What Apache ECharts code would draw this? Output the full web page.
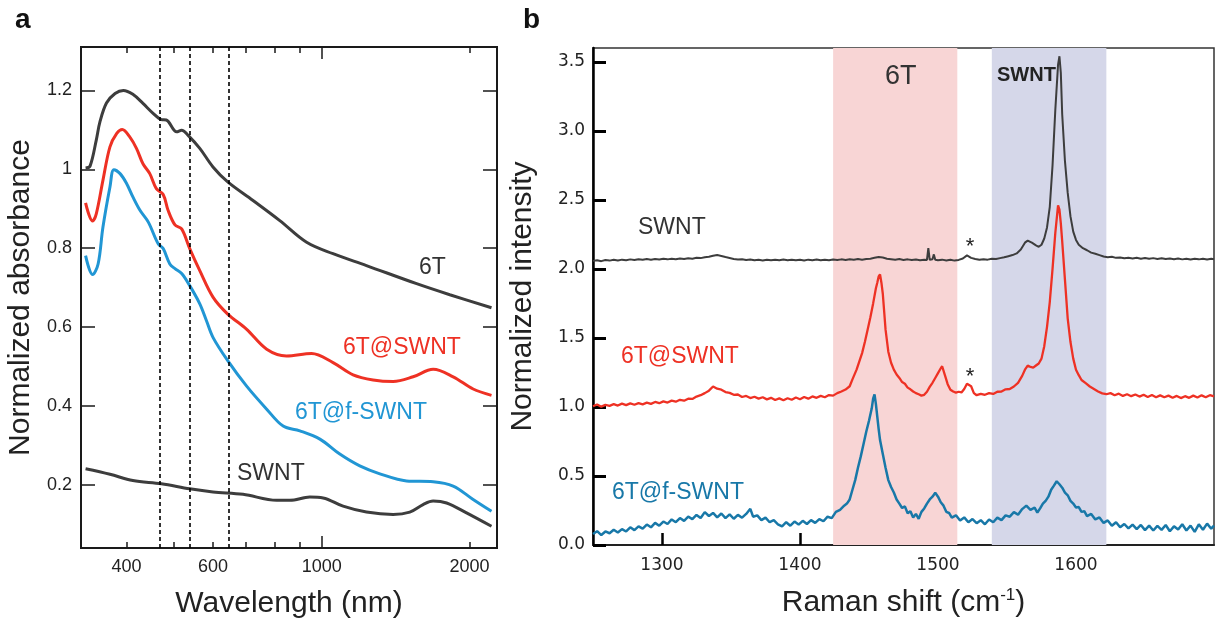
<!DOCTYPE html>
<html><head><meta charset="utf-8">
<script src="https://cdn.jsdelivr.net/npm/echarts@6/dist/echarts.min.js"></script>
<style>html,body{margin:0;padding:0;background:#fff}#c{width:1225px;height:628px}</style>
</head><body><div id="c"></div><script>
// ---------- Panel a: absorbance (wavelength nm, normalized absorbance) ----------
const abs6T = [[330,1.003],[337,1.008],[347,1.074],[353,1.12],[364,1.168],[379,1.192],[394,1.20],[412,1.19],[432,1.167],[453,1.142],[471,1.126],[482,1.125],[506,1.095],[518,1.099],[534,1.086],[564,1.053],[600,1.006],[643,0.968],[724,0.921],[821,0.870],[931,0.815],[1054,0.786],[1233,0.756],[1560,0.710],[1823,0.682],[2217,0.649]];
const abs6TSWNT = [[330,0.915],[341,0.869],[347,0.887],[358,0.972],[370,1.057],[382,1.091],[392,1.101],[406,1.082],[419,1.053],[432,1.014],[446,0.989],[460,0.951],[475,0.936],[486,0.896],[502,0.859],[518,0.849],[538,0.799],[564,0.743],[600,0.676],[643,0.633],[702,0.595],[772,0.544],[847,0.527],[953,0.533],[1054,0.510],[1158,0.479],[1272,0.466],[1397,0.462],[1535,0.474],[1686,0.493],[1852,0.474],[2034,0.443],[2217,0.427]];
const abs6TfSWNT = [[330,0.781],[341,0.733],[350,0.760],[358,0.853],[370,0.955],[377,0.999],[388,0.989],[400,0.964],[412,0.930],[426,0.896],[443,0.866],[464,0.811],[475,0.799],[490,0.760],[502,0.748],[518,0.736],[538,0.705],[564,0.659],[582,0.616],[600,0.574],[643,0.515],[702,0.451],[772,0.392],[834,0.349],[902,0.337],[991,0.316],[1088,0.278],[1195,0.248],[1313,0.228],[1488,0.210],[1686,0.208],[1852,0.197],[2034,0.163],[2217,0.133]];
const absSWNT = [[330,0.241],[370,0.227],[412,0.211],[471,0.203],[538,0.190],[600,0.182],[691,0.176],[809,0.161],[861,0.161],[945,0.169],[1006,0.167],[1105,0.146],[1233,0.131],[1397,0.125],[1511,0.131],[1608,0.150],[1686,0.159],[1796,0.154],[1972,0.129],[2217,0.095]];
const laserLines = [472, 537, 643];
const wlLabels = [400, 600, 1000, 2000];
const wlMinorTicks = [400, 500, 600, 700, 800, 900, 2000];
const wlMajorTicks = [1000];
const absTicks = [0.2, 0.4, 0.6, 0.8, 1.0, 1.2];

// ---------- Panel b: Raman (shift cm-1, normalized intensity) ----------
const ramanSWNT = [[1250,2.058],[1253,2.062],[1256,2.056],[1259,2.064],[1262,2.060],[1265,2.066],[1268,2.061],[1271,2.067],[1274,2.063],[1277,2.069],[1280,2.064],[1283,2.070],[1286,2.066],[1289,2.071],[1292,2.067],[1295,2.072],[1298,2.068],[1301,2.073],[1304,2.069],[1307,2.074],[1310,2.070],[1313,2.076],[1316,2.072],[1319,2.077],[1322,2.074],[1325,2.080],[1328,2.078],[1331,2.085],[1334,2.088],[1337,2.095],[1340,2.100],[1343,2.094],[1346,2.086],[1349,2.079],[1352,2.072],[1355,2.068],[1358,2.070],[1361,2.064],[1364,2.068],[1367,2.062],[1370,2.066],[1373,2.061],[1376,2.066],[1379,2.062],[1382,2.067],[1385,2.063],[1388,2.068],[1391,2.063],[1394,2.067],[1397,2.062],[1400,2.066],[1403,2.061],[1406,2.067],[1409,2.063],[1412,2.068],[1415,2.062],[1418,2.067],[1421,2.063],[1424,2.068],[1427,2.064],[1430,2.069],[1433,2.065],[1436,2.070],[1439,2.066],[1442,2.071],[1445,2.067],[1448,2.072],[1451,2.074],[1454,2.080],[1457,2.086],[1460,2.082],[1463,2.074],[1466,2.070],[1469,2.066],[1472,2.071],[1475,2.065],[1478,2.069],[1481,2.064],[1484,2.068],[1487,2.063],[1490,2.067],[1492,2.065],[1493,2.150],[1494,2.066],[1496,2.070],[1497,2.105],[1498,2.066],[1500,2.062],[1503,2.067],[1506,2.061],[1509,2.066],[1512,2.060],[1515,2.065],[1518,2.075],[1521,2.098],[1524,2.080],[1527,2.072],[1530,2.066],[1533,2.070],[1536,2.067],[1539,2.073],[1542,2.071],[1545,2.078],[1548,2.084],[1551,2.092],[1554,2.100],[1557,2.112],[1560,2.140],[1563,2.190],[1565,2.205],[1568,2.190],[1571,2.170],[1573,2.160],[1575,2.175],[1577,2.220],[1579,2.300],[1581,2.450],[1583,2.750],[1585,3.150],[1587,3.480],[1588,3.540],[1589,3.420],[1590,3.120],[1592,2.780],[1594,2.550],[1596,2.380],[1598,2.270],[1600,2.210],[1602,2.175],[1605,2.150],[1608,2.135],[1611,2.118],[1614,2.110],[1617,2.100],[1620,2.090],[1623,2.084],[1626,2.088],[1629,2.080],[1632,2.083],[1635,2.077],[1638,2.081],[1641,2.076],[1644,2.080],[1647,2.074],[1650,2.079],[1653,2.073],[1656,2.078],[1659,2.072],[1662,2.077],[1665,2.071],[1668,2.076],[1671,2.070],[1674,2.075],[1677,2.069],[1680,2.074],[1683,2.068],[1686,2.073],[1689,2.069],[1692,2.074],[1695,2.068],[1698,2.073],[1700,2.070]];
const raman6TSWNT = [[1250,1.005],[1253,1.018],[1256,1.002],[1259,1.015],[1262,1.008],[1265,1.020],[1268,1.010],[1271,1.024],[1274,1.013],[1277,1.026],[1280,1.016],[1283,1.028],[1286,1.019],[1289,1.031],[1292,1.022],[1295,1.036],[1298,1.027],[1301,1.040],[1304,1.032],[1307,1.046],[1310,1.038],[1313,1.052],[1316,1.045],[1319,1.060],[1322,1.058],[1325,1.075],[1328,1.085],[1331,1.100],[1334,1.118],[1337,1.148],[1340,1.132],[1343,1.125],[1346,1.108],[1349,1.102],[1352,1.088],[1355,1.090],[1358,1.072],[1361,1.080],[1364,1.064],[1367,1.074],[1370,1.060],[1373,1.070],[1376,1.055],[1379,1.066],[1382,1.050],[1385,1.062],[1388,1.048],[1391,1.063],[1394,1.052],[1397,1.068],[1400,1.056],[1403,1.072],[1406,1.060],[1409,1.076],[1412,1.066],[1415,1.080],[1418,1.070],[1421,1.086],[1424,1.082],[1427,1.100],[1430,1.112],[1433,1.126],[1436,1.150],[1438,1.200],[1441,1.270],[1443,1.330],[1445,1.390],[1447,1.470],[1449,1.560],[1451,1.650],[1453,1.750],[1455,1.860],[1456,1.900],[1457,1.945],[1458,1.960],[1459,1.900],[1460,1.820],[1461,1.690],[1462,1.560],[1464,1.400],[1466,1.320],[1468,1.270],[1470,1.235],[1472,1.210],[1474,1.180],[1476,1.168],[1478,1.140],[1480,1.128],[1482,1.112],[1484,1.100],[1486,1.092],[1488,1.082],[1490,1.088],[1492,1.110],[1494,1.145],[1496,1.175],[1498,1.210],[1500,1.245],[1502,1.280],[1503,1.295],[1505,1.230],[1507,1.165],[1509,1.125],[1511,1.112],[1513,1.104],[1515,1.110],[1517,1.105],[1519,1.130],[1521,1.168],[1522,1.160],[1524,1.150],[1526,1.100],[1528,1.085],[1531,1.095],[1534,1.088],[1537,1.100],[1540,1.094],[1543,1.110],[1546,1.112],[1549,1.128],[1552,1.130],[1555,1.148],[1558,1.175],[1561,1.225],[1563,1.270],[1565,1.300],[1567,1.290],[1569,1.285],[1571,1.300],[1573,1.315],[1575,1.350],[1577,1.440],[1579,1.580],[1581,1.760],[1583,2.000],[1585,2.260],[1587,2.460],[1588,2.430],[1589,2.330],[1590,2.200],[1592,1.920],[1594,1.640],[1596,1.470],[1598,1.350],[1600,1.270],[1602,1.230],[1604,1.195],[1607,1.172],[1610,1.148],[1613,1.130],[1616,1.112],[1619,1.098],[1622,1.092],[1625,1.100],[1628,1.085],[1631,1.096],[1634,1.080],[1637,1.092],[1640,1.078],[1643,1.090],[1646,1.075],[1649,1.088],[1652,1.072],[1655,1.086],[1658,1.070],[1661,1.084],[1664,1.070],[1667,1.082],[1670,1.066],[1673,1.080],[1676,1.064],[1679,1.078],[1682,1.066],[1685,1.082],[1688,1.068],[1691,1.084],[1694,1.070],[1697,1.085],[1700,1.076]];
const raman6TfSWNT = [[1250,0.080],[1253,0.100],[1256,0.072],[1259,0.098],[1262,0.085],[1265,0.110],[1268,0.090],[1271,0.115],[1274,0.098],[1277,0.128],[1280,0.108],[1283,0.135],[1286,0.118],[1289,0.148],[1292,0.128],[1295,0.160],[1298,0.140],[1301,0.170],[1304,0.152],[1307,0.185],[1310,0.165],[1313,0.195],[1316,0.175],[1319,0.205],[1322,0.188],[1325,0.218],[1328,0.195],[1331,0.238],[1334,0.210],[1337,0.232],[1340,0.200],[1343,0.228],[1346,0.195],[1349,0.222],[1352,0.190],[1355,0.218],[1358,0.198],[1361,0.225],[1364,0.262],[1366,0.205],[1369,0.215],[1372,0.180],[1375,0.198],[1378,0.165],[1381,0.180],[1384,0.150],[1387,0.135],[1390,0.165],[1393,0.140],[1396,0.170],[1399,0.148],[1402,0.175],[1405,0.152],[1408,0.180],[1411,0.160],[1414,0.188],[1417,0.172],[1420,0.205],[1423,0.195],[1426,0.240],[1429,0.255],[1432,0.285],[1434,0.300],[1436,0.330],[1438,0.400],[1440,0.470],[1442,0.560],[1444,0.640],[1446,0.730],[1448,0.820],[1450,0.900],[1452,0.990],[1453,1.060],[1454,1.090],[1455,1.020],[1456,0.930],[1457,0.840],[1458,0.760],[1460,0.660],[1462,0.560],[1464,0.470],[1466,0.420],[1468,0.380],[1470,0.330],[1472,0.300],[1474,0.268],[1476,0.280],[1478,0.230],[1480,0.245],[1482,0.200],[1484,0.225],[1486,0.190],[1488,0.240],[1490,0.265],[1492,0.300],[1494,0.330],[1496,0.350],[1498,0.378],[1500,0.350],[1502,0.310],[1504,0.285],[1506,0.240],[1508,0.232],[1510,0.198],[1513,0.215],[1516,0.178],[1519,0.200],[1522,0.165],[1525,0.188],[1528,0.158],[1531,0.180],[1534,0.150],[1537,0.185],[1540,0.165],[1543,0.198],[1546,0.180],[1549,0.215],[1552,0.205],[1555,0.238],[1558,0.220],[1561,0.260],[1564,0.285],[1567,0.255],[1570,0.270],[1572,0.235],[1574,0.265],[1576,0.300],[1578,0.320],[1580,0.350],[1582,0.400],[1584,0.430],[1586,0.462],[1588,0.440],[1590,0.415],[1592,0.380],[1594,0.360],[1596,0.320],[1598,0.300],[1600,0.272],[1602,0.275],[1604,0.240],[1606,0.245],[1608,0.210],[1611,0.225],[1614,0.185],[1617,0.200],[1620,0.160],[1623,0.178],[1626,0.140],[1629,0.165],[1632,0.128],[1635,0.152],[1638,0.120],[1641,0.148],[1644,0.115],[1647,0.145],[1650,0.108],[1653,0.140],[1656,0.105],[1659,0.138],[1662,0.110],[1665,0.145],[1668,0.100],[1671,0.135],[1674,0.112],[1677,0.150],[1680,0.105],[1683,0.140],[1686,0.095],[1689,0.150],[1692,0.110],[1695,0.155],[1698,0.118],[1700,0.140]];
const bandRanges = [[1424, 1514], [1539, 1622]];
const ramanTicks = [1300, 1400, 1500, 1600];
const intensityTicks = [0.0, 0.5, 1.0, 1.5, 2.0, 2.5, 3.0, 3.5];

// ---------- styling ----------
const GRAY = '#3d3d3d', RED = '#ee3124', BLUE_A = '#2196d4', BLUE_B = '#1878a8';
const FONT = 'Liberation Sans';
const lg = v => Math.log10(v);
const toLog = arr => arr.map(p => [lg(p[0]), p[1]]);

const chart = echarts.init(document.getElementById('c'), null, {renderer: 'canvas'});

function wlAxis(pos, ticks, len, withLabels) {
  return {
    type: 'value', gridIndex: 0, position: pos, min: lg(323), max: lg(2275),
    axisLine: {show: false}, splitLine: {show: false},
    axisTick: {show: true, inside: true, length: len, customValues: ticks.map(lg), lineStyle: {color: '#1a1a1a', width: 1.5}},
    axisLabel: withLabels ? {show: true, customValues: wlLabels.map(lg), margin: 10, fontSize: 18, fontFamily: FONT, color: '#222',
      formatter: v => String(Math.round(Math.pow(10, v)))} : {show: false},
    name: withLabels ? 'Wavelength (nm)' : '', nameLocation: 'middle', nameGap: 41,
    nameTextStyle: {fontSize: 30, fontFamily: FONT, color: '#222'}
  };
}
function absAxis(pos, withLabels) {
  return {
    type: 'value', gridIndex: 0, position: pos, min: 0.04, max: 1.31,
    axisLine: {show: false}, splitLine: {show: false},
    axisTick: {show: true, inside: true, length: 14, customValues: absTicks, lineStyle: {color: '#1a1a1a', width: 1.5}},
    axisLabel: withLabels ? {show: true, customValues: absTicks, margin: 9, fontSize: 18, fontFamily: FONT, color: '#222',
      formatter: v => String(Math.round(v * 10) / 10)} : {show: false},
    name: withLabels ? 'Normalized absorbance' : '', nameLocation: 'middle', nameGap: 45,
    nameTextStyle: {fontSize: 30, fontFamily: FONT, color: '#222'}
  };
}

const option = {
  animation: false,
  backgroundColor: '#fff',
  grid: [
    {left: 81, top: 47, width: 416, height: 501, show: true, borderColor: '#1a1a1a', borderWidth: 2},
    {left: 593, top: 48, width: 621, height: 497, show: true, borderColor: '#333', borderWidth: 1.5}
  ],
  xAxis: [
    wlAxis('bottom', wlMinorTicks, 6, true),
    wlAxis('top', wlMinorTicks, 6, false),
    wlAxis('bottom', wlMajorTicks, 12, false),
    wlAxis('top', wlMajorTicks, 12, false),
    {
      type: 'value', gridIndex: 1, position: 'bottom', min: 1250, max: 1700,
      axisLine: {show: true, lineStyle: {color: '#222', width: 2}}, splitLine: {show: false},
      axisTick: {show: true, inside: true, length: 12, customValues: ramanTicks, lineStyle: {color: '#000', width: 2.5}},
      axisLabel: {show: true, customValues: ramanTicks, margin: 12, fontSize: 17, fontFamily: 'DejaVu Sans', color: '#222',
        formatter: v => String(v)},
      name: 'Raman shift (cm{sup|-1})', nameLocation: 'middle', nameGap: 42,
      nameTextStyle: {fontSize: 30, fontFamily: FONT, color: '#222',
        rich: {sup: {fontSize: 17, fontFamily: FONT, color: '#222', padding: [0, 0, 14, 0]}}}
    }
  ],
  yAxis: [
    absAxis('left', true),
    absAxis('right', false),
    {
      type: 'value', gridIndex: 1, position: 'left', min: 0, max: 3.6,
      axisLine: {show: true, lineStyle: {color: '#000', width: 2.5}}, splitLine: {show: false},
      axisTick: {show: true, inside: true, length: 13, customValues: intensityTicks, lineStyle: {color: '#000', width: 3}},
      axisLabel: {show: true, customValues: intensityTicks, margin: 8, fontSize: 17, fontFamily: 'DejaVu Sans', color: '#222',
        formatter: v => v.toFixed(1)},
      name: 'Normalized intensity', nameLocation: 'middle', nameGap: 55,
      nameTextStyle: {fontSize: 30, fontFamily: FONT, color: '#222'}
    }
  ],
  series: [
    // panel a
    {type: 'line', xAxisIndex: 0, yAxisIndex: 0, data: toLog(absSWNT), showSymbol: false, smooth: 0.35,
      lineStyle: {color: GRAY, width: 3}, z: 3,
      markLine: {silent: true, symbol: ['none', 'none'], label: {show: false},
        lineStyle: {color: '#000', width: 1.6, type: [4, 3]},
        data: laserLines.map(w => ({xAxis: lg(w)}))}},
    {type: 'line', xAxisIndex: 0, yAxisIndex: 0, data: toLog(abs6TfSWNT), showSymbol: false, smooth: 0.35,
      lineStyle: {color: BLUE_A, width: 3}, z: 3},
    {type: 'line', xAxisIndex: 0, yAxisIndex: 0, data: toLog(abs6TSWNT), showSymbol: false, smooth: 0.35,
      lineStyle: {color: RED, width: 3}, z: 3},
    {type: 'line', xAxisIndex: 0, yAxisIndex: 0, data: toLog(abs6T), showSymbol: false, smooth: 0.35,
      lineStyle: {color: GRAY, width: 3}, z: 3},
    // panel b bands
    {type: 'line', xAxisIndex: 4, yAxisIndex: 2, data: [], z: 1,
      markArea: {silent: true, data: [
        [{xAxis: bandRanges[0][0], itemStyle: {color: '#f8d5d5'}}, {xAxis: bandRanges[0][1]}],
        [{xAxis: bandRanges[1][0], itemStyle: {color: '#d5d7e9'}}, {xAxis: bandRanges[1][1]}]
      ]}},
    {type: 'line', xAxisIndex: 4, yAxisIndex: 2, data: raman6TfSWNT, showSymbol: false, lineStyle: {color: BLUE_B, width: 2.5}, z: 3},
    {type: 'line', xAxisIndex: 4, yAxisIndex: 2, data: raman6TSWNT, showSymbol: false, lineStyle: {color: RED, width: 2.3}, z: 3},
    {type: 'line', xAxisIndex: 4, yAxisIndex: 2, data: ramanSWNT, showSymbol: false, lineStyle: {color: GRAY, width: 2}, z: 3}
  ],
  graphic: [
    {type: 'text', z: 100, left: 15, top: 6, style: {text: 'a', font: 'bold 28px "Liberation Sans"', fill: '#111'}},
    {type: 'text', z: 100, left: 523, top: 6, style: {text: 'b', font: 'bold 28px "Liberation Sans"', fill: '#111'}},
    {type: 'text', z: 100, x: 419, y: 268, style: {text: '6T', font: '23px "Liberation Sans"', fill: '#333', verticalAlign: 'middle'}},
    {type: 'text', z: 100, x: 343, y: 348, style: {text: '6T@SWNT', font: '23px "Liberation Sans"', fill: RED, verticalAlign: 'middle'}},
    {type: 'text', z: 100, x: 295, y: 413, style: {text: '6T@f-SWNT', font: '23px "Liberation Sans"', fill: BLUE_A, verticalAlign: 'middle'}},
    {type: 'text', z: 100, x: 237, y: 474, style: {text: 'SWNT', font: '23px "Liberation Sans"', fill: '#333', verticalAlign: 'middle'}},
    {type: 'text', z: 100, x: 638, y: 228, style: {text: 'SWNT', font: '23px "Liberation Sans"', fill: '#333', verticalAlign: 'middle'}},
    {type: 'text', z: 100, x: 621, y: 357, style: {text: '6T@SWNT', font: '23px "Liberation Sans"', fill: RED, verticalAlign: 'middle'}},
    {type: 'text', z: 100, x: 612, y: 493, style: {text: '6T@f-SWNT', font: '23px "Liberation Sans"', fill: BLUE_B, verticalAlign: 'middle'}},
    {type: 'text', z: 100, x: 885, y: 77, style: {text: '6T', font: '27px "Liberation Sans"', fill: '#333', verticalAlign: 'middle'}},
    {type: 'text', z: 100, x: 997, y: 75, style: {text: 'SWNT', font: 'bold 20px "Liberation Sans"', fill: '#222', verticalAlign: 'middle'}},
    {type: 'text', z: 100, x: 970, y: 247, style: {text: '*', font: '22px "Liberation Sans"', fill: '#222', align: 'center', verticalAlign: 'middle'}},
    {type: 'text', z: 100, x: 970, y: 377, style: {text: '*', font: '22px "Liberation Sans"', fill: '#222', align: 'center', verticalAlign: 'middle'}}
  ]
};
chart.setOption(option);
</script></body></html>
